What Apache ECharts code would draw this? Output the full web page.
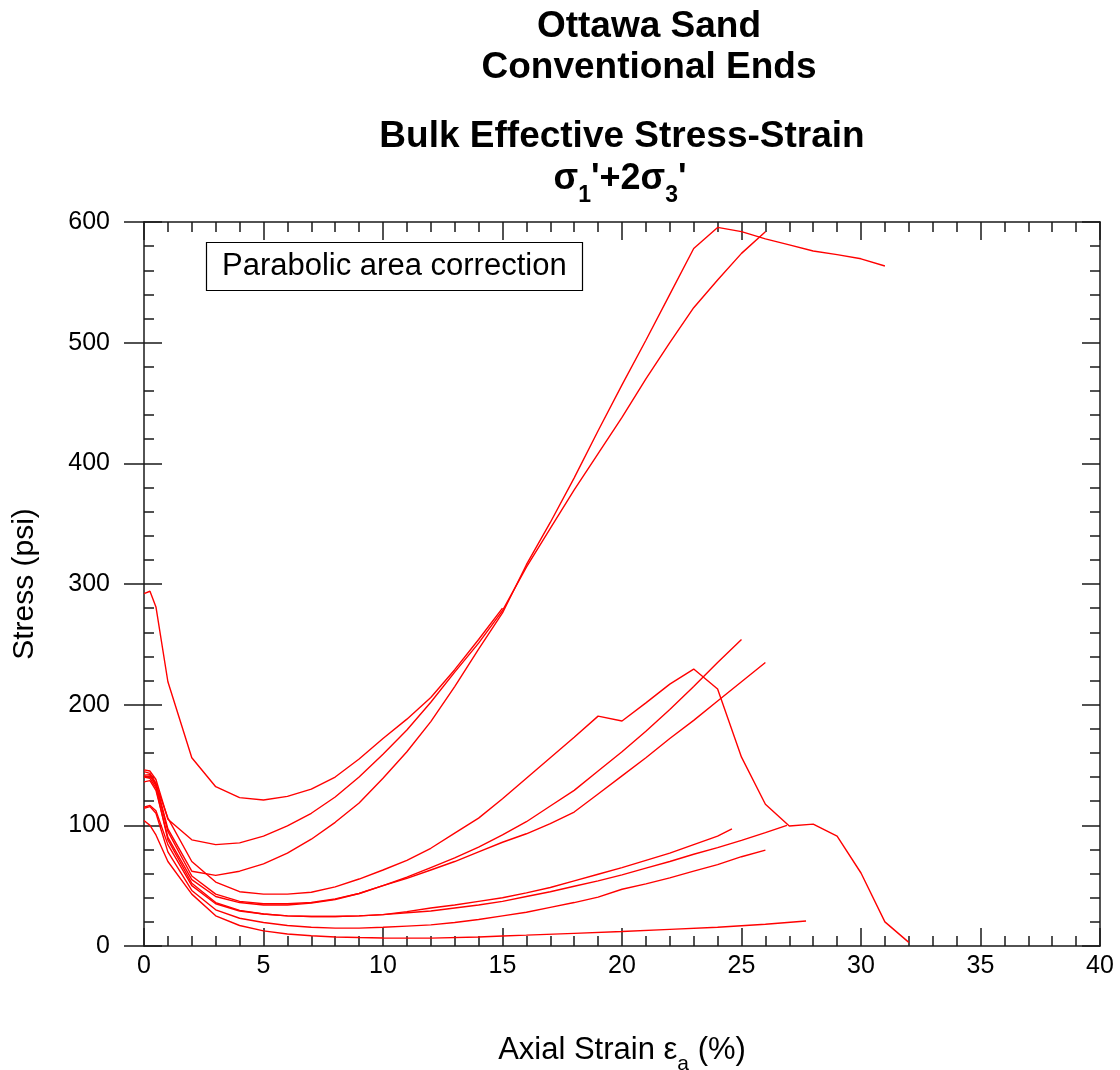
<!DOCTYPE html>
<html>
<head>
<meta charset="utf-8">
<title>Ottawa Sand - Bulk Effective Stress-Strain</title>
<script src="https://cdn.jsdelivr.net/npm/echarts@6/dist/echarts.min.js"></script>
<style>
  html, body { margin: 0; padding: 0; background: #fff; }
  #chart { width: 1120px; height: 1070px; }
</style>
</head>
<body>
<div id="chart"></div>
<script>
// Axial strain (%) and bulk effective stress (psi) for each test
const testA_strain = [0, 0.25, 0.5, 1, 2, 3, 4, 5, 6, 7, 8, 9, 10, 11, 12, 13, 14, 15];
const testA_stress = [292, 294, 281, 219, 156, 132, 123, 121, 124, 130, 140, 155, 172, 188, 206, 229, 254, 280];

const testB_strain = [0, 0.25, 0.5, 1, 2, 3, 4, 5, 6, 7, 8, 9, 10, 11, 12, 13, 14, 15, 16, 17, 18, 19, 20, 21, 22, 23, 24, 25, 26];
const testB_stress = [146, 145, 138, 105, 88, 84, 85.5, 91, 99.5, 110, 123.5, 140, 159, 179, 202, 227, 251, 278, 314, 346, 378, 408, 438, 470, 500, 529, 552, 574, 592];

const testC_strain = [0, 0.25, 0.5, 1, 2, 3, 4, 5, 6, 7, 8, 9, 10, 11, 12, 13, 14, 15, 16, 17, 18, 19, 20, 21, 22, 23, 24, 25, 26, 27, 28, 29, 30, 31];
const testC_stress = [144.5, 143, 135, 97, 62, 58.5, 62, 68, 77, 88.5, 102.5, 118.5, 139, 161, 186, 215, 246, 276, 316, 351, 388, 427, 465, 502, 540, 578, 595.5, 592, 586, 581, 576, 573, 569.5, 563.5];

const testD_strain = [0, 0.25, 0.5, 1, 2, 3, 4, 5, 6, 7, 8, 9, 10, 11, 12, 13, 14, 15, 16, 17, 18, 19, 20, 21, 22, 23, 24, 25, 26, 27, 28, 29, 30, 31, 32];
const testD_stress = [141.5, 142, 134, 106, 70, 53, 45, 43, 43, 44.5, 49, 55.5, 63, 71, 81, 93.5, 106, 122, 139, 156, 173, 190.5, 186.5, 201.5, 217, 229.5, 213, 156.5, 117.5, 99.5, 101, 91, 60.5, 20, 3];

const testE_strain = [0, 0.25, 0.5, 1, 2, 3, 4, 5, 6, 7, 8, 9, 10, 11, 12, 13, 14, 15, 16, 17, 18, 19, 20, 21, 22, 23, 24, 25];
const testE_stress = [140, 141, 133, 95, 58, 43, 37, 35, 35, 36, 39, 43.5, 50, 57, 65, 73, 82, 92, 103, 116, 129, 145, 161, 178, 196, 215, 235, 254];

const testF_strain = [0, 0.25, 0.5, 1, 2, 3, 4, 5, 6, 7, 8, 9, 10, 11, 12, 13, 14, 15, 16, 17, 18, 19, 20, 21, 22, 23, 24, 25, 26];
const testF_stress = [136, 137, 129, 90, 55, 41, 36, 34, 34, 35.5, 38.5, 43.5, 50, 56, 63, 70, 78, 86, 93, 101.5, 111, 126, 141, 156, 172, 187, 203, 219, 235];

const testG_strain = [0, 0.25, 0.5, 1, 2, 3, 4, 5, 6, 7, 8, 9, 10, 11, 12, 13, 14, 15, 16, 17, 18, 19, 20, 21, 22, 23, 24, 24.6];
const testG_stress = [140, 139, 131, 88, 52, 36, 29.5, 26.5, 25, 24.5, 24.5, 25, 26, 28.5, 31.5, 34, 37, 40, 44, 48.5, 54, 59.5, 65, 71, 77, 84, 91, 97];

const testH_strain = [0, 0.25, 0.5, 1, 2, 3, 4, 5, 6, 7, 8, 9, 10, 11, 12, 13, 14, 15, 16, 17, 18, 19, 20, 21, 22, 23, 24, 25, 26, 26.9];
const testH_stress = [115, 116.5, 112, 84, 50, 35, 29, 26.5, 25, 24.5, 24.5, 25, 26, 27.5, 29, 31.5, 34, 37, 41, 45, 49.5, 54, 59, 64.5, 70, 76, 81.5, 87.5, 94, 100];

const testI_strain = [0, 0.25, 0.5, 1, 2, 3, 4, 5, 6, 7, 8, 9, 10, 11, 12, 13, 14, 15, 16, 17, 18, 19, 20, 21, 22, 23, 24, 25, 26];
const testI_stress = [114, 115.5, 110, 78, 46, 30, 23, 19.5, 17, 15.5, 14.8, 14.8, 15.5, 16.5, 17.5, 19.5, 22, 25, 28, 32, 36, 40.5, 47, 51.5, 56.5, 62, 67.5, 74, 79.5];

const testJ_strain = [0, 0.25, 0.5, 1, 2, 3, 4, 5, 6, 7, 8, 9, 10, 12, 14, 15, 16, 18, 20, 22, 24, 26, 27.7];
const testJ_stress = [104, 100, 92, 70, 43, 25, 17, 12.5, 10, 8.5, 7.5, 7, 6.6, 6.5, 7.5, 8.3, 9, 10.5, 12, 13.8, 15.5, 18, 20.7];

// Axis ranges and tick spacing
const strainRange = [0, 40];
const strainStep = 5;
const stressRange = [0, 600];
const stressStep = 100;

const tests = [
  ['A', testA_strain, testA_stress],
  ['B', testB_strain, testB_stress],
  ['C', testC_strain, testC_stress],
  ['D', testD_strain, testD_stress],
  ['E', testE_strain, testE_stress],
  ['F', testF_strain, testF_stress],
  ['G', testG_strain, testG_stress],
  ['H', testH_strain, testH_stress],
  ['I', testI_strain, testI_stress],
  ['J', testJ_strain, testJ_stress]
];

const FONT = '"Liberation Sans", Arial, Helvetica, sans-serif';
const INK = '#000';
const AXIS_LINE = { show: true, onZero: false, lineStyle: { color: '#1a1a1a', width: 1.5 } };
const TICK_STYLE = { color: '#1a1a1a', width: 1.5 };

// One side of the frame: line plus inward major/minor ticks
function frameAxis(kind, position, opts) {
  const range = kind === 'x' ? strainRange : stressRange;
  const step = kind === 'x' ? strainStep : stressStep;
  return Object.assign({
    type: 'value',
    position: position,
    min: range[0],
    max: range[1],
    interval: step,
    axisLine: AXIS_LINE,
    axisTick: { show: true, inside: true, length: 18, lineStyle: TICK_STYLE },
    minorTick: { show: true, splitNumber: 5, length: 10, lineStyle: TICK_STYLE },
    axisLabel: { show: false },
    splitLine: { show: false },
    minorSplitLine: { show: false }
  }, opts || {});
}

const chart = echarts.init(document.getElementById('chart'), null, { renderer: 'canvas' });

const option = {
  backgroundColor: '#fff',
  animation: false,
  textStyle: { fontFamily: FONT, color: INK },
  title: [
    {
      text: 'Ottawa Sand\nConventional Ends',
      left: 649, top: 6, textAlign: 'center', padding: 0,
      textStyle: { fontFamily: FONT, fontSize: 37, fontWeight: 'bold', color: INK, lineHeight: 41 }
    },
    {
      text: 'Bulk Effective Stress-Strain',
      left: 622, top: 116, textAlign: 'center', padding: 0,
      textStyle: { fontFamily: FONT, fontSize: 37, fontWeight: 'bold', color: INK, lineHeight: 41 }
    },
    {
      text: '{s|σ}{sub|1}{s|\'+2σ}{sub|3}{s|\'}',
      left: 620, top: 161, textAlign: 'center', padding: 0,
      textStyle: {
        fontFamily: FONT, fontSize: 36, fontWeight: 'bold', color: INK,
        rich: {
          s: { fontFamily: FONT, fontSize: 36, fontWeight: 'bold', color: INK, lineHeight: 42, verticalAlign: 'top' },
          sub: { fontFamily: FONT, fontSize: 23, fontWeight: 'bold', color: INK, lineHeight: 23, padding: [23, 0, 0, 0], verticalAlign: 'top' }
        }
      }
    },
    {
      text: 'Parabolic area correction',
      left: 206, top: 242, padding: [8, 16, 8, 16],
      borderColor: '#000', borderWidth: 1.2,
      textStyle: { fontFamily: FONT, fontSize: 31, fontWeight: 'normal', color: INK, lineHeight: 33 }
    }
  ],
  grid: { left: 144, right: 20, top: 222, bottom: 124, containLabel: false, outerBoundsMode: 'none' },
  xAxis: [
    frameAxis('x', 'bottom', {
      axisLabel: { show: true, fontFamily: FONT, fontSize: 25, color: INK, margin: 8 },
      name: '{t|Axial Strain ε}{sub|a}{t| (%)}',
      nameLocation: 'middle',
      nameGap: 89,
      nameTextStyle: {
        fontFamily: FONT, fontSize: 31, color: INK,
        rich: {
          t: { fontFamily: FONT, fontSize: 31, color: INK, lineHeight: 35, verticalAlign: 'top' },
          sub: { fontFamily: FONT, fontSize: 21, color: INK, lineHeight: 21, padding: [19, 0, 0, 0], verticalAlign: 'top' }
        }
      }
    }),
    frameAxis('x', 'top')
  ],
  yAxis: [
    frameAxis('y', 'left', {
      axisLabel: { show: true, fontFamily: FONT, fontSize: 25, color: INK, margin: 34 },
      name: 'Stress (psi)',
      nameLocation: 'middle',
      nameGap: 104,
      nameTextStyle: { fontFamily: FONT, fontSize: 30, color: INK }
    }),
    frameAxis('y', 'right'),
    frameAxis('y', 'left', {
      axisLine: { show: false, onZero: false },
      axisTick: { show: true, inside: false, length: 20, lineStyle: TICK_STYLE },
      minorTick: { show: false }
    })
  ],
  series: tests.map(function (t) {
    return {
      name: 'Test ' + t[0],
      type: 'line',
      xAxisIndex: 0,
      yAxisIndex: 0,
      data: t[1].map(function (x, i) { return [x, t[2][i]]; }),
      showSymbol: false,
      symbol: 'none',
      smooth: false,
      lineStyle: { color: '#ff0000', width: 1.4 },
      emphasis: { disabled: true }
    };
  })
};

chart.setOption(option);
</script>
</body>
</html>
